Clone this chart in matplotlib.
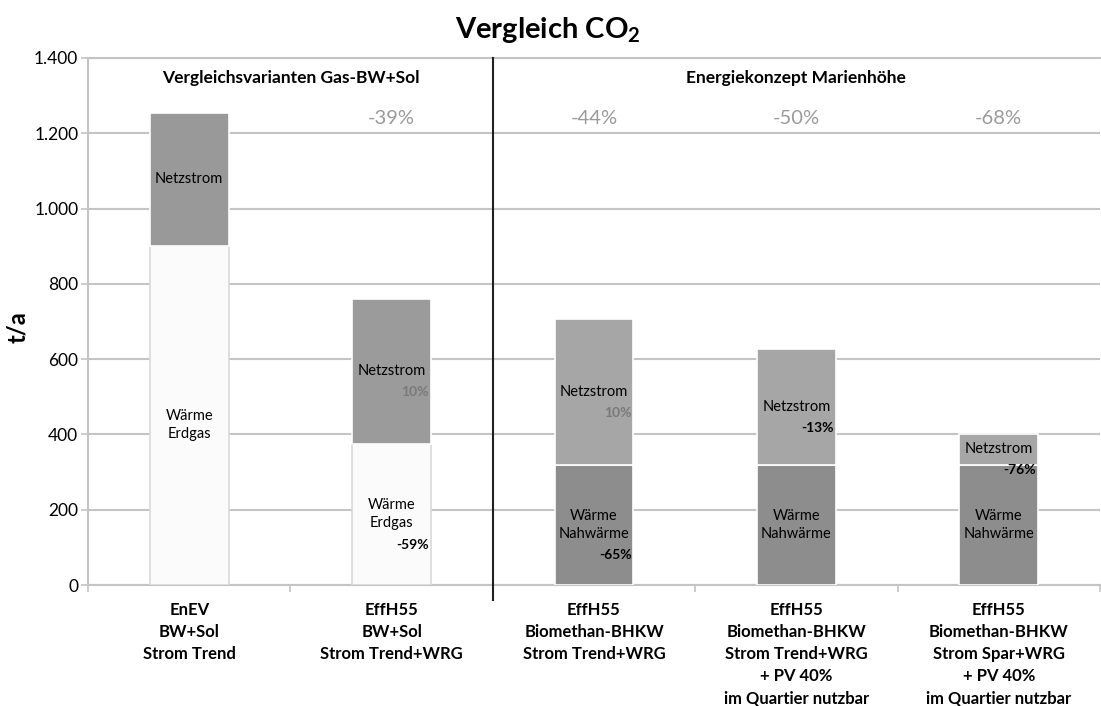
import matplotlib
matplotlib.use("Agg")
import matplotlib.pyplot as plt
import numpy as np
from matplotlib.ticker import FuncFormatter, FixedLocator

plt.rcParams['font.family'] = ['Lato', 'DejaVu Sans']

# Daten (t/a)
kategorien = [
    "EnEV\nBW+Sol\nStrom Trend",
    "EffH55\nBW+Sol\nStrom Trend+WRG",
    "EffH55\nBiomethan-BHKW\nStrom Trend+WRG",
    "EffH55\nBiomethan-BHKW\nStrom Trend+WRG\n+ PV 40%\nim Quartier nutzbar",
    "EffH55\nBiomethan-BHKW\nStrom Spar+WRG\n+ PV 40%\nim Quartier nutzbar",
]
waerme = [900, 375, 320, 320, 320]
netzstrom = [355, 385, 387, 307, 80]
waerme_namen = ["Wärme\nErdgas", "Wärme\nErdgas", "Wärme\nNahwärme", "Wärme\nNahwärme", "Wärme\nNahwärme"]
waerme_pct = ["", "-59%", "-65%", "", ""]
netz_pct = ["", "10%", "10%", "-13%", "-76%"]
gesamt_pct = ["", "-39%", "-44%", "-50%", "-68%"]
gruppen = ["Vergleichsvarianten Gas-BW+Sol", "Energiekonzept Marienhöhe"]
gruppen_anzahl = [2, 3]

# Farben
waerme_farben = ['#fbfbfb', '#fbfbfb', '#8d8d8d', '#8d8d8d', '#8d8d8d']
waerme_kanten = ['#d9d9d9', '#d9d9d9', '#ffffff', '#ffffff', '#ffffff']
netz_farben = ['#999999', '#9b9b9b', '#a6a6a6', '#a6a6a6', '#a6a6a6']
netz_pct_farben = ['k', '#7a7a7a', '#7a7a7a', 'k', 'k']
gitter = '#c4c4c4'

fig = plt.figure(figsize=(11.01, 7.06), dpi=100)
ax = fig.add_axes([88 / 1101, 1 - 585 / 706, (1100 - 88) / 1101, (585 - 58) / 706])

x = np.arange(len(kategorien))
breite = 0.39

ax.bar(x, waerme, breite, color=waerme_farben, edgecolor=waerme_kanten, linewidth=1.2, zorder=3)
ax.bar(x, netzstrom, breite, bottom=waerme, color=netz_farben, edgecolor='white', linewidth=1.2, zorder=3)

# Beschriftungen in den Balken
for i in range(len(x)):
    rechts = x[i] + breite / 2 - 0.01
    mitte_n = waerme[i] + netzstrom[i] / 2
    ax.text(x[i], mitte_n, "Netzstrom", ha='center', va='center', fontsize=10.5, zorder=4)
    if netz_pct[i]:
        ax.annotate(netz_pct[i], (rechts, mitte_n), xytext=(0, -15), textcoords='offset points',
                    ha='right', va='center', fontsize=10, fontweight='bold',
                    color=netz_pct_farben[i], zorder=4)
    mitte_w = waerme[i] / 2
    if i == 0:
        mitte_w = waerme[i] / 2 - 25
    ax.text(x[i], mitte_w, waerme_namen[i], ha='center', va='center', fontsize=10.5,
            linespacing=1.35, zorder=4)
    if waerme_pct[i]:
        ax.annotate(waerme_pct[i], (rechts, mitte_w), xytext=(0, -22), textcoords='offset points',
                    ha='right', va='center', fontsize=10, fontweight='bold', zorder=4)
    if gesamt_pct[i]:
        ax.text(x[i], 1240, gesamt_pct[i], ha='center', va='center', fontsize=14.5,
                color='#9a9a9a', zorder=4)

# Gruppen und Trennlinie
start = 0
for name, n in zip(gruppen, gruppen_anzahl):
    ax.text(start + (n - 1) / 2, 1348, name, ha='center', va='center',
            fontsize=12.5, fontweight='bold')
    start += n
trenn = gruppen_anzahl[0] - 0.5
ax.plot([trenn, trenn], [-40, 1400], color='#202020', lw=1.5, clip_on=False, zorder=5)

ax.set_xlim(-0.5, len(x) - 0.5)
ax.set_ylim(0, 1400)
ax.set_yticks(np.arange(0, 1401, 200))
ax.yaxis.set_major_formatter(FuncFormatter(lambda v, p: f"{v:,.0f}".replace(",", ".")))
ax.tick_params(axis='y', labelsize=12.5, length=5, color=gitter, width=1.2, pad=2)
ax.grid(axis='y', color=gitter, linewidth=1.5, zorder=0)

ax.set_xticks(x)
ax.set_xticklabels(kategorien, fontsize=12, fontweight='bold', linespacing=1.48)
ax.tick_params(axis='x', which='major', length=0, pad=12)
ax.xaxis.set_minor_locator(FixedLocator(np.arange(-0.5, len(x), 1.0)))
ax.tick_params(axis='x', which='minor', length=5, color=gitter, width=1.2)

for s in ['left', 'bottom', 'top']:
    ax.spines[s].set_color(gitter)
    ax.spines[s].set_linewidth(1.5)
ax.spines['right'].set_visible(False)

ax.set_ylabel("t/a", fontsize=17, fontweight='bold')
ax.yaxis.set_label_coords(-0.058, 0.49)

fig.text(548 / 1101, 1 - 30 / 706, r"Vergleich CO$_\mathregular{2}$", ha='center', va='center',
         fontsize=21, fontweight='bold')

fig.savefig("out.png", dpi=100)
